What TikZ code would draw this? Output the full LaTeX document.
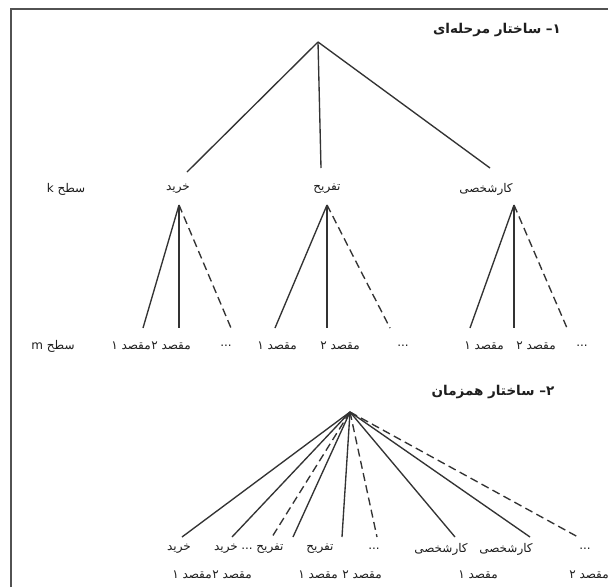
\documentclass[tikz,border=0pt]{standalone}
\usepackage{fontspec}
\TeXXeTstate=1
\newfontfamily\arabicfont[Script=Arabic]{DejaVu Sans}
\newcommand{\fa}[1]{{\arabicfont\beginR #1\endR}}
\definecolor{linec}{HTML}{333333}
\definecolor{txtc}{HTML}{1E1E1E}
\tikzset{
  conn/.style={draw=linec, line width=1.35pt},
  dconn/.style={conn, dash pattern=on 8pt off 4.5pt},
  lab/.style={font=\arabicfont\fontsize{12}{14}\selectfont, text=txtc, inner sep=0.5pt},
  ttl/.style={font=\arabicfont\bfseries\fontsize{13.5}{15}\selectfont, text=txtc, inner sep=0.5pt},
  frame/.style={draw=linec!85, line width=1.5pt}
}
\begin{document}
\begin{tikzpicture}[x=1pt,y=-1pt]
\useasboundingbox (0,0) rectangle (608,587);
\fill[white] (0,0) rectangle (608,587);
\draw[frame] (11,587) -- (11,9) -- (608,9);

% ---------- 1: hierarchical structure ----------
\node[ttl] (title1) at (497,30) {\fa{۱– ساختار مرحله‌ای}};
\coordinate (root1) at (318,42);
\coordinate (ekh) at (187,172);
\coordinate (eta) at (321,168);
\coordinate (eka) at (490,168);
\node[lab] (kh) at (178,189) {\fa{خرید}};
\node[lab] (ta) at (327,189) {\fa{تفریح}};
\node[lab] (ka) at (486,189) {\fa{کارشخصی}};
\node[lab] (sk) at (66,189) {\fa{سطح k}};
\draw[conn] (root1) -- (ekh);
\draw[conn] (root1) -- (eta);
\draw[conn] (root1) -- (eka);

\coordinate (a1) at (179,205);
\coordinate (a2) at (327,205);
\coordinate (a3) at (514,205);
\coordinate (e11) at (143,328);
\coordinate (e12) at (179,328);
\coordinate (e13) at (231,328);
\coordinate (e21) at (275,328);
\coordinate (e22) at (327,328);
\coordinate (e23) at (390,328);
\coordinate (e31) at (470,328);
\coordinate (e32) at (514,328);
\coordinate (e33) at (567,328);
\draw[conn] (a1) -- (e11);
\draw[conn] (a1) -- (e12);
\draw[dconn] (a1) -- (e13);
\draw[conn] (a2) -- (e21);
\draw[conn] (a2) -- (e22);
\draw[dconn] (a2) -- (e23);
\draw[conn] (a3) -- (e31);
\draw[conn] (a3) -- (e32);
\draw[dconn] (a3) -- (e33);

\node[lab] (sm) at (53,346) {\fa{سطح m}};
\node[lab] (m11) at (131,346) {\fa{مقصد ۱}};
\node[lab] (m12) at (171,346) {\fa{مقصد ۲}};
\node[lab] (m13) at (226,346) {...};
\node[lab] (m21) at (277,346) {\fa{مقصد ۱}};
\node[lab] (m22) at (340,346) {\fa{مقصد ۲}};
\node[lab] (m23) at (403,346) {...};
\node[lab] (m31) at (484,346) {\fa{مقصد ۱}};
\node[lab] (m32) at (536,346) {\fa{مقصد ۲}};
\node[lab] (m33) at (582,346) {...};

% ---------- 2: simultaneous structure ----------
\node[ttl] (title2) at (493,392) {\fa{۲– ساختار همزمان}};
\coordinate (hub) at (350,412);
\coordinate (f1) at (182,537);
\coordinate (f2) at (232,537);
\coordinate (f3) at (272,537);
\coordinate (f4) at (293,537);
\coordinate (f5) at (342,537);
\coordinate (f6) at (377,537);
\coordinate (f7) at (455,537);
\coordinate (f8) at (530,537);
\coordinate (f9) at (578,537);
\draw[conn] (hub) -- (f1);
\draw[conn] (hub) -- (f2);
\draw[dconn] (hub) -- (f3);
\draw[conn] (hub) -- (f4);
\draw[conn] (hub) -- (f5);
\draw[dconn] (hub) -- (f6);
\draw[conn] (hub) -- (f7);
\draw[conn] (hub) -- (f8);
\draw[dconn] (hub) -- (f9);

\node[lab] (b1) at (179,549) {\fa{خرید}};
\node[lab] (b2) at (226,549) {\fa{خرید}};
\node[lab] (b3) at (247,549) {...};
\node[lab] (b4) at (270,549) {\fa{تفریح}};
\node[lab] (b5) at (320,549) {\fa{تفریح}};
\node[lab] (b6) at (374,549) {...};
\node[lab] (b7) at (441,549) {\fa{کارشخصی}};
\node[lab] (b8) at (506,549) {\fa{کارشخصی}};
\node[lab] (b9) at (585,549) {...};

\node[lab] (d1) at (192,575) {\fa{مقصد ۱}};
\node[lab] (d2) at (232,575) {\fa{مقصد ۲}};
\node[lab] (d4) at (318,575) {\fa{مقصد ۱}};
\node[lab] (d5) at (362,575) {\fa{مقصد ۲}};
\node[lab] (d7) at (478,575) {\fa{مقصد ۱}};
\node[lab] (d8) at (589,575) {\fa{مقصد ۲}};
\end{tikzpicture}
\end{document}
